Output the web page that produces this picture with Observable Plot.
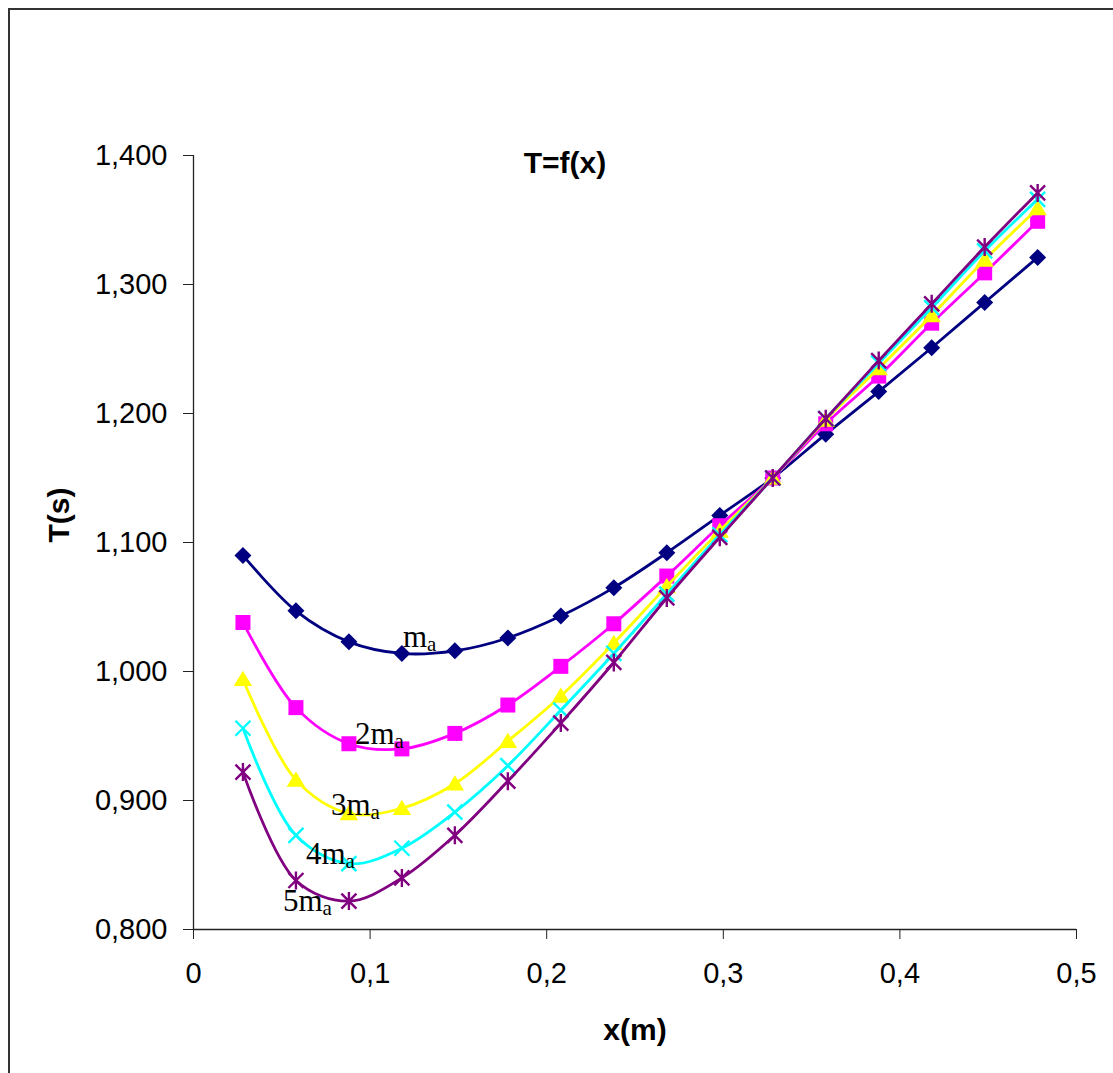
<!DOCTYPE html>
<html>
<head>
<meta charset="utf-8">
<script src="https://cdn.jsdelivr.net/npm/d3@7"></script>
<script src="https://cdn.jsdelivr.net/npm/@observablehq/plot@0.6"></script>
<style>
  html, body { margin: 0; padding: 0; background: #fff; overflow: hidden; }
  #wrap { position: relative; width: 1113px; height: 1073px; }
  #border { position: absolute; left: 8px; top: 8px; width: 1300px; height: 1300px;
            border: 2px solid #333; box-sizing: border-box; pointer-events: none; }
  #chart { position: absolute; left: 0; top: 0; }
</style>
</head>
<body>
<div id="wrap"><div id="border"></div><div id="chart"></div></div>
<script>
// ---- data ----
const xValues = [0.028, 0.058, 0.088, 0.118, 0.148, 0.178, 0.208, 0.238, 0.268, 0.298, 0.328, 0.358, 0.388, 0.418, 0.448, 0.478];
const T_ma  = [1.090, 1.047, 1.023, 1.014, 1.016, 1.026, 1.043, 1.065, 1.092, 1.121, 1.150, 1.184, 1.217, 1.251, 1.286, 1.321];
const T_2ma = [1.038, 0.972, 0.944, 0.940, 0.952, 0.974, 1.004, 1.037, 1.074, 1.113, 1.150, 1.192, 1.229, 1.270, 1.309, 1.349];
const T_3ma = [0.994, 0.916, 0.890, 0.894, 0.913, 0.946, 0.981, 1.022, 1.066, 1.109, 1.150, 1.195, 1.235, 1.276, 1.319, 1.359];
const T_4ma = [0.956, 0.873, 0.851, 0.863, 0.891, 0.927, 0.970, 1.014, 1.060, 1.106, 1.150, 1.196, 1.239, 1.282, 1.326, 1.366];
const T_5ma = [0.922, 0.838, 0.822, 0.840, 0.873, 0.915, 0.960, 1.007, 1.057, 1.104, 1.150, 1.196, 1.241, 1.285, 1.329, 1.371];
const seriesNames = ["m", "2m", "3m", "4m", "5m"];
const seriesSub = "a";
const xTicks = [0, 0.1, 0.2, 0.3, 0.4, 0.5];
const yTicks = [0.8, 0.9, 1.0, 1.1, 1.2, 1.3, 1.4];
const titleText = "T=f(x)";
const xTitle = "x(m)";
const yTitle = "T(s)";

// ---- symbols (Excel-like markers) ----
const rad = s => Math.sqrt(s / Math.PI);
const symDiamond = {draw(c, s) { const r = rad(s); c.moveTo(0, -r); c.lineTo(r, 0); c.lineTo(0, r); c.lineTo(-r, 0); c.closePath(); }};
const symSquare = {draw(c, s) { const r = rad(s); c.rect(-r, -r, 2 * r, 2 * r); }};
const symTriangle = {draw(c, s) { const r = rad(s); c.moveTo(0, -r * 1.05); c.lineTo(r * 1.15, r * 0.85); c.lineTo(-r * 1.15, r * 0.85); c.closePath(); }};
const symX = {draw(c, s) { const r = rad(s); c.moveTo(-r, -r); c.lineTo(r, r); c.moveTo(r, -r); c.lineTo(-r, r); }};
const symStar = {draw(c, s) { const r = rad(s); c.moveTo(-r, -r); c.lineTo(r, r); c.moveTo(r, -r); c.lineTo(-r, r); c.moveTo(0, -r * 1.2); c.lineTo(0, r * 1.2); }};

const seriesValues = [T_ma, T_2ma, T_3ma, T_4ma, T_5ma];
const colors = ["#000080", "#FF00FF", "#FFFF00", "#00FFFF", "#800080"];
const symbols = [symDiamond, symSquare, symTriangle, symX, symStar];
const filled = [true, true, true, false, false];
const radii = [8.5, 7.5, 8, 7.5, 7.5];

const series = seriesValues.map((vals, k) => xValues.map((x, i) => ({x, T: vals[i], s: k})));

const fmtY = d => d.toFixed(3).replace(".", ",");
const fmtX = d => d === 0 ? "0" : String(+d.toFixed(1)).replace(".", ",");

// label anchors: data point index and pixel offsets
const labelAnchor = [
  {i: 3, dx: 1, dy: -6},
  {i: 2, dx: 6, dy: 0},
  {i: 2, dx: -18, dy: 2},
  {i: 2, dx: -43, dy: 0},
  {i: 2, dx: -66, dy: 10}
];

const marks = [
  Plot.ruleX([0], {stroke: "#222", strokeWidth: 1.3}),
  Plot.ruleY([0.8], {stroke: "#222", strokeWidth: 1.3}),
  Plot.axisY(yTicks, {tickSize: 10, tickPadding: 16, tickFormat: fmtY, label: null, fontSize: 29, stroke: "#222"}),
  Plot.axisX(xTicks, {tickSize: 10, tickPadding: 23, tickFormat: fmtX, label: null, fontSize: 29, stroke: "#222"})
];
series.forEach((data, k) => {
  marks.push(Plot.line(data, {x: "x", y: "T", stroke: colors[k], strokeWidth: 2.8, curve: "catmull-rom"}));
  marks.push(Plot.dot(data, {
    x: "x", y: "T", symbol: symbols[k], r: radii[k],
    fill: filled[k] ? colors[k] : "none",
    stroke: filled[k] ? "none" : colors[k],
    strokeWidth: filled[k] ? 0 : 2.4
  }));
});
series.forEach((data, k) => {
  const a = labelAnchor[k];
  marks.push(Plot.text([data[a.i]], {
    x: "x", y: "T", text: () => seriesNames[k], textAnchor: "start", lineAnchor: "bottom",
    dx: a.dx, dy: a.dy, fontFamily: "Liberation Serif", fontSize: 31, fill: "#000",
    ariaDescription: "series-label"
  }));
});
marks.push(Plot.text([titleText], {frameAnchor: "top", lineAnchor: "middle", dx: -70, dy: 8, fontWeight: "bold", fontSize: 30, fill: "#000"}));
marks.push(Plot.text([xTitle], {frameAnchor: "bottom", lineAnchor: "middle", dx: 0, dy: 101, fontWeight: "bold", fontSize: 30, fill: "#000"}));
marks.push(Plot.text([yTitle], {frameAnchor: "left", lineAnchor: "middle", rotate: -90, dx: -134, dy: 0, fontWeight: "bold", fontSize: 30, fill: "#000"}));

const chart = Plot.plot({
  width: 1113,
  height: 1073,
  marginLeft: 193,
  marginRight: 37,
  marginTop: 155,
  marginBottom: 144,
  x: {domain: [0, 0.5]},
  y: {domain: [0.8, 1.4]},
  style: {fontFamily: "Liberation Sans, Arial, sans-serif", fontSize: "29px", background: "transparent", color: "#000"},
  marks
});

// subscript "a" for series labels
chart.querySelectorAll('text').forEach(t => {
  if (t.closest('[aria-description="series-label"]') || t.getAttribute("aria-label") === "series-label") {
    const sub = document.createElementNS("http://www.w3.org/2000/svg", "tspan");
    sub.setAttribute("font-size", "21");
    sub.setAttribute("dy", "4");
    sub.textContent = seriesSub;
    t.appendChild(sub);
  }
});

document.getElementById("chart").appendChild(chart);
</script>
</body>
</html>
